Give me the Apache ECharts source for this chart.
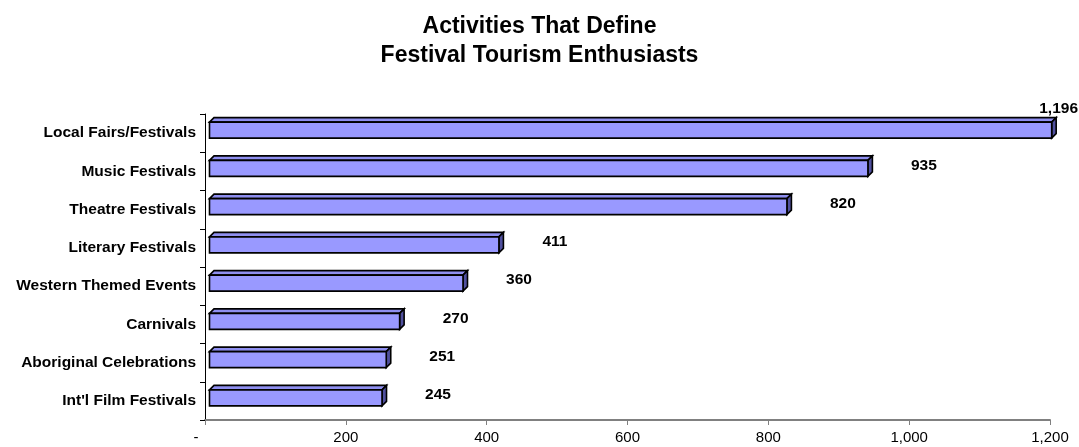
<!DOCTYPE html>
<html>
<head>
<meta charset="utf-8">
<script src="https://cdn.jsdelivr.net/npm/echarts@6/dist/echarts.min.js"></script>
<style>
  html, body { margin: 0; padding: 0; background: #ffffff; }
  #chart { width: 1079px; height: 447px; }
</style>
</head>
<body>
<div id="chart"></div>
<script>
// Festival activities, top to bottom, with respondent counts
const categories = [
  'Local Fairs/Festivals',
  'Music Festivals',
  'Theatre Festivals',
  'Literary Festivals',
  'Western Themed Events',
  'Carnivals',
  'Aboriginal Celebrations',
  "Int'l Film Festivals"
];
const counts = [1196, 935, 820, 411, 360, 270, 251, 245];
const xTicks = [0, 200, 400, 600, 800, 1000, 1200];

const FONT = '"Liberation Sans", Arial, sans-serif';
const fmt = v => v.toLocaleString('en-US');

const chart = echarts.init(document.getElementById('chart'), null, { renderer: 'canvas' });

// Draws one bevelled (pseudo-3D) bar: front face, top face and right side face,
// plus its value label placed to the right of the bar.
function renderBar(params, api) {
  const idx = api.value(0);
  const val = api.value(1);
  const origin = api.coord([0, idx]);
  const end = api.coord([val, idx]);
  const cy = origin[1];
  const d = 4.5;               // depth of the bevel
  const fx0 = origin[0] + 4.5;
  const fx1 = end[0] + 4.5;
  const ft = cy - 11;
  const fb = cy + 5;
  const stroke = { stroke: '#000000', lineWidth: 1.6, lineJoin: 'miter' };

  const label = fmt(val);
  const halfW = label.length * 4.5;
  let lx = fx1 + 56;
  let ly = cy - 6;
  let align = 'center';
  const maxX = api.getWidth() - 1;
  // labels that would run off the right edge sit above the bar's end instead
  if (lx + halfW > maxX) {
    lx = maxX;
    align = 'right';
    ly = ft - d - 9;
  }

  return {
    type: 'group',
    children: [
      {
        type: 'polygon',
        shape: { points: [[fx0, ft], [fx0 + d, ft - d], [fx1 + d, ft - d], [fx1, ft]] },
        style: Object.assign({ fill: '#8f8ff0' }, stroke)
      },
      {
        type: 'polygon',
        shape: { points: [[fx1, ft], [fx1 + d, ft - d], [fx1 + d, fb - d], [fx1, fb]] },
        style: Object.assign({ fill: '#50509e' }, stroke)
      },
      {
        type: 'rect',
        shape: { x: fx0, y: ft, width: fx1 - fx0, height: fb - ft },
        style: Object.assign({ fill: '#9999ff' }, stroke)
      },
      {
        type: 'text',
        x: lx,
        y: ly,
        style: {
          text: label,
          fill: '#000000',
          font: 'bold 15.5px ' + FONT,
          align: align,
          verticalAlign: 'middle'
        }
      }
    ]
  };
}

chart.setOption({
  animation: false,
  backgroundColor: '#ffffff',
  title: {
    text: 'Activities That Define\nFestival Tourism Enthusiasts',
    left: 'center',
    top: 7,
    textStyle: {
      fontFamily: FONT,
      fontWeight: 'bold',
      fontSize: 23,
      lineHeight: 29,
      color: '#000000'
    }
  },
  grid: { left: 205, right: 29, top: 114, bottom: 27, containLabel: false },
  xAxis: {
    type: 'value',
    min: xTicks[0],
    max: xTicks[xTicks.length - 1],
    interval: xTicks[1] - xTicks[0],
    axisLine: { show: true, lineStyle: { color: '#808080', width: 2 } },
    axisTick: { show: true, length: 5, lineStyle: { color: '#808080', width: 1 } },
    splitLine: { show: false },
    axisLabel: {
      margin: 10,
      fontFamily: FONT,
      fontSize: 15,
      color: '#000000',
      formatter: v => (v === 0 ? '{z|-}' : fmt(v)),
      rich: { z: { fontFamily: FONT, fontSize: 15, color: '#000000', padding: [0, 18, 0, 0] } }
    }
  },
  yAxis: {
    type: 'category',
    data: categories,
    inverse: true,
    axisLine: { show: true, lineStyle: { color: '#000000', width: 1 } },
    axisTick: { show: true, length: 5, lineStyle: { color: '#000000' } },
    axisLabel: {
      margin: 9,
      fontFamily: FONT,
      fontWeight: 'bold',
      fontSize: 15.5,
      color: '#000000'
    }
  },
  series: [{
    type: 'custom',
    renderItem: renderBar,
    encode: { x: 1, y: 0 },
    data: counts.map((v, i) => [i, v]),
    clip: false
  }]
});
</script>
</body>
</html>
